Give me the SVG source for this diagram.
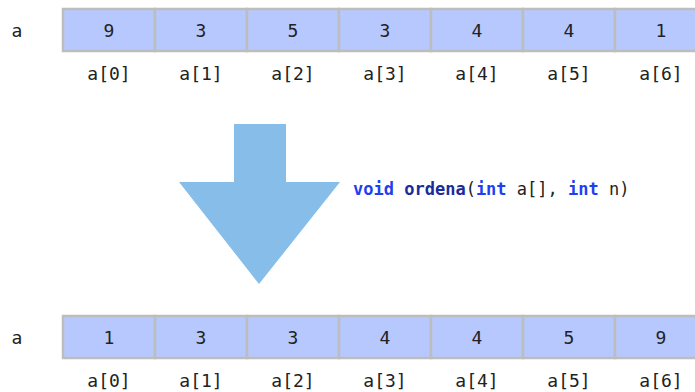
<svg xmlns="http://www.w3.org/2000/svg" width="695" height="392" viewBox="0 0 695 392">
<style>
text{font-family:"DejaVu Sans Mono",monospace;font-size:18px;fill:#222}
.cell{fill:#b7c8fe;stroke:#bdbdbd;stroke-width:2.5}
.v{text-anchor:middle}
.i{text-anchor:middle}
.kw{fill:#1f3ff0;font-weight:bold}
.fn{fill:#1a2c9c;font-weight:bold}
</style>
<rect width="695" height="392" fill="#fff"/>
<g id="top-array">
<text x="17" y="37" class="v">a</text>
<rect class="cell" x="63" y="9" width="92" height="42"/>
<rect class="cell" x="155" y="9" width="92" height="42"/>
<rect class="cell" x="247" y="9" width="92" height="42"/>
<rect class="cell" x="339" y="9" width="92" height="42"/>
<rect class="cell" x="431" y="9" width="92" height="42"/>
<rect class="cell" x="523" y="9" width="92" height="42"/>
<rect class="cell" x="615" y="9" width="92" height="42"/>
<text class="v" x="109" y="37">9</text>
<text class="v" x="201" y="37">3</text>
<text class="v" x="293" y="37">5</text>
<text class="v" x="385" y="37">3</text>
<text class="v" x="477" y="37">4</text>
<text class="v" x="569" y="37">4</text>
<text class="v" x="661" y="37">1</text>
<text class="i" x="109" y="80">a[0]</text>
<text class="i" x="201" y="80">a[1]</text>
<text class="i" x="293" y="80">a[2]</text>
<text class="i" x="385" y="80">a[3]</text>
<text class="i" x="477" y="80">a[4]</text>
<text class="i" x="569" y="80">a[5]</text>
<text class="i" x="661" y="80">a[6]</text>
</g>
<g id="arrow">
<polygon points="234,124 286,124 286,182 340,182 259,284 179,182 234,182" fill="#87bde9"/>
</g>
<g id="signature">
<text x="353" y="195" style="font-size:17px"><tspan class="kw">void</tspan> <tspan class="fn">ordena</tspan>(<tspan class="kw">int</tspan> a[], <tspan class="kw">int</tspan> n)</text>
</g>
<g id="bottom-array">
<text x="17" y="344" class="v">a</text>
<rect class="cell" x="63" y="316" width="92" height="42"/>
<rect class="cell" x="155" y="316" width="92" height="42"/>
<rect class="cell" x="247" y="316" width="92" height="42"/>
<rect class="cell" x="339" y="316" width="92" height="42"/>
<rect class="cell" x="431" y="316" width="92" height="42"/>
<rect class="cell" x="523" y="316" width="92" height="42"/>
<rect class="cell" x="615" y="316" width="92" height="42"/>
<text class="v" x="109" y="344">1</text>
<text class="v" x="201" y="344">3</text>
<text class="v" x="293" y="344">3</text>
<text class="v" x="385" y="344">4</text>
<text class="v" x="477" y="344">4</text>
<text class="v" x="569" y="344">5</text>
<text class="v" x="661" y="344">9</text>
<text class="i" x="109" y="387">a[0]</text>
<text class="i" x="201" y="387">a[1]</text>
<text class="i" x="293" y="387">a[2]</text>
<text class="i" x="385" y="387">a[3]</text>
<text class="i" x="477" y="387">a[4]</text>
<text class="i" x="569" y="387">a[5]</text>
<text class="i" x="661" y="387">a[6]</text>
</g>
</svg>
